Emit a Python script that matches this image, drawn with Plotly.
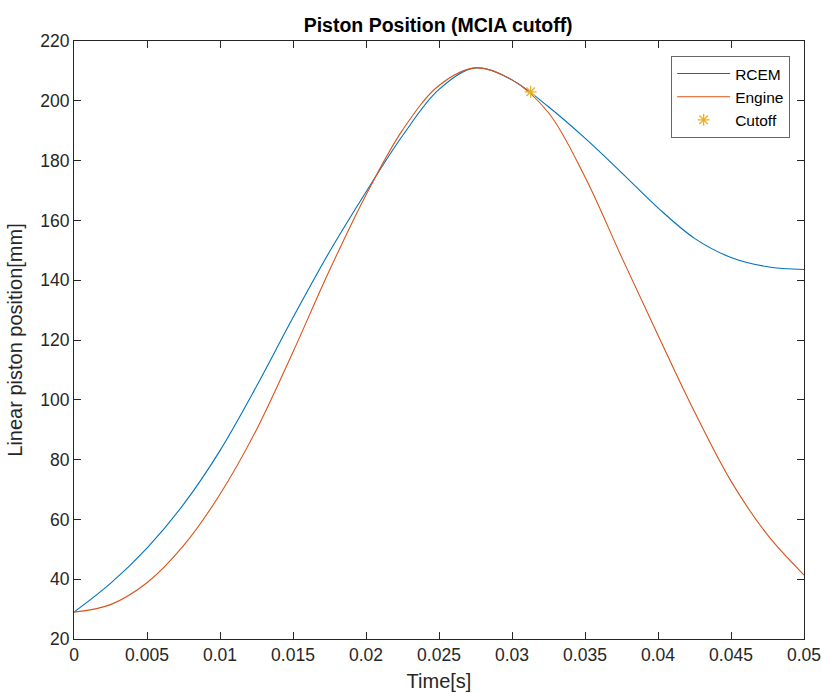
import plotly.graph_objects as go

time_s = [0.0, 0.0025, 0.005, 0.0075, 0.01, 0.0125, 0.015, 0.0175, 0.02, 0.0225,
          0.025, 0.0275, 0.03, 0.0325, 0.035, 0.0375, 0.04, 0.0425, 0.045, 0.0475, 0.05]
rcem_mm = [29.0, 38.6, 50.4, 65.0, 83.0, 104.5, 127.5, 149.5, 169.5, 188.3,
           203.8, 211.0, 207.0, 198.0, 187.5, 176.0, 164.2, 154.0, 147.6, 144.5, 143.6]
engine_mm = [29.0, 31.5, 38.8, 51.2, 68.4, 90.0, 116.0, 143.3, 168.5, 190.2,
             205.1, 211.0, 207.0, 196.0, 174.5, 147.8, 121.6, 96.0, 72.8, 54.8, 41.4]
cutoff_t = [0.03128]
cutoff_mm = [203.0]

x_ticks = [0, 0.005, 0.01, 0.015, 0.02, 0.025, 0.03, 0.035, 0.04, 0.045, 0.05]
x_tick_text = ["0", "0.005", "0.01", "0.015", "0.02", "0.025", "0.03", "0.035", "0.04", "0.045", "0.05"]
y_ticks = [20, 40, 60, 80, 100, 120, 140, 160, 180, 200, 220]

FONT = "Liberation Sans, Arial, Helvetica, sans-serif"
AX = "#262626"

fig = go.Figure()
fig.add_trace(go.Scatter(x=time_s, y=rcem_mm, mode="lines", name="RCEM",
                         line=dict(color="#0072BD", width=1.1, shape="spline", smoothing=1.0)))
fig.add_trace(go.Scatter(x=time_s, y=engine_mm, mode="lines", name="Engine",
                         line=dict(color="#D95319", width=1.1, shape="spline", smoothing=1.0)))
fig.add_trace(go.Scatter(x=cutoff_t, y=cutoff_mm, mode="markers", name="Cutoff",
                         marker=dict(symbol="asterisk-open", size=10, color="#EDB120",
                                     line=dict(color="#EDB120", width=1.3))))

axis_common = dict(showgrid=False, zeroline=False, showline=True, linecolor=AX, linewidth=1,
                   mirror="ticks", ticks="inside", ticklen=7, tickcolor=AX, tickwidth=1,
                   automargin=False,
                   tickfont=dict(family=FONT, size=17.5, color=AX))

fig.update_layout(
    width=822, height=693,
    margin=dict(l=74, r=18, t=41, b=54),
    paper_bgcolor="white", plot_bgcolor="white",
    title=dict(text="<b>Piston Position (MCIA cutoff)</b>", x=0.533, xanchor="center",
               y=0.963, yanchor="middle", font=dict(family=FONT, size=19.5, color="black")),
    xaxis=dict(range=[0, 0.05], tickvals=x_ticks, ticktext=x_tick_text,
               title=dict(text="Time[s]", font=dict(family=FONT, size=20, color=AX), standoff=9),
               **axis_common),
    yaxis=dict(range=[20, 220], tickvals=y_ticks,
               title=dict(text="Linear piston position[mm]", font=dict(family=FONT, size=20, color=AX), standoff=12),
               **axis_common),
    legend=dict(x=0.981, xanchor="right", y=0.975, yanchor="top",
                bgcolor="white", bordercolor="#666666", borderwidth=1,
                font=dict(family=FONT, size=15.5, color="black"),
                tracegroupgap=0, itemwidth=53),
    showlegend=True,
)

fig.write_html("out.html", config={"displayModeBar": False},
               post_script="document.body.style.margin='0';")
